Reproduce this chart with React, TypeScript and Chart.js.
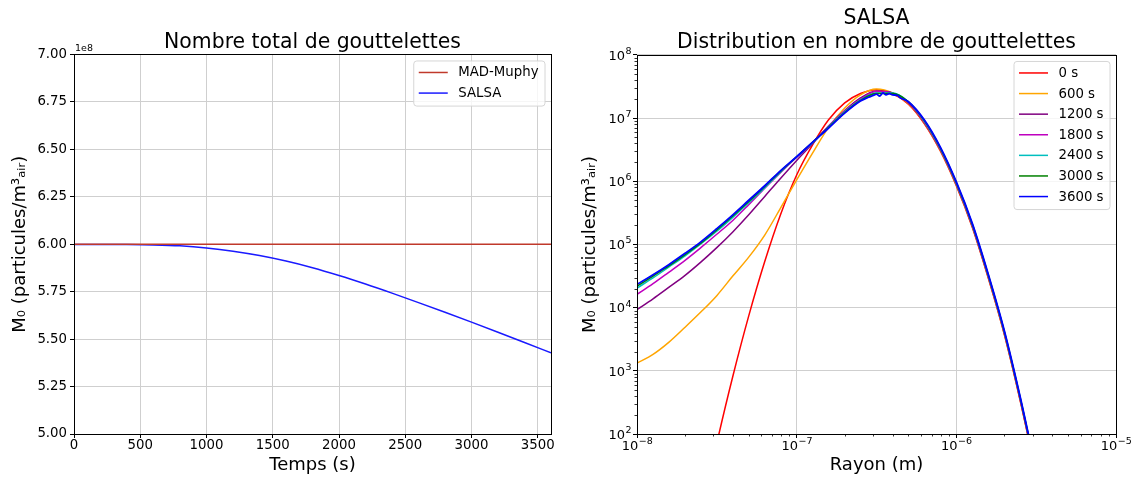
import React, { useEffect, useRef } from 'react';
import { Chart, registerables } from 'chart.js';

Chart.register(...registerables);

// ---------- Left chart data ----------
const times = [0, 200, 400, 600, 800, 1000, 1200, 1400, 1600, 1800, 2000, 2200, 2400, 2600, 2800, 3000, 3200, 3400, 3600];
const madMuphy = [6.0e8, 6.0e8, 6.0e8, 6.0e8, 6.0e8, 6.0e8, 6.0e8, 6.0e8, 6.0e8, 6.0e8, 6.0e8, 6.0e8, 6.0e8, 6.0e8, 6.0e8, 6.0e8, 6.0e8, 6.0e8, 6.0e8];
const salsaTotal = [5.999e8, 5.999e8, 5.9985e8, 5.9965e8, 5.9915e8, 5.9805e8, 5.9635e8, 5.9405e8, 5.9115e8, 5.8765e8, 5.8355e8, 5.7905e8, 5.7425e8, 5.6925e8, 5.6415e8, 5.5895e8, 5.5365e8, 5.4825e8, 5.4275e8];
const leftXTicks = [0, 500, 1000, 1500, 2000, 2500, 3000, 3500];
const leftYTicks = [5.0e8, 5.25e8, 5.5e8, 5.75e8, 6.0e8, 6.25e8, 6.5e8, 6.75e8, 7.0e8];
const leftSeriesLabels = ['MAD-Muphy', 'SALSA'];

// ---------- Right chart data ----------
const radius = [
  1.0e-8, 1.26e-8, 1.58e-8, 2.0e-8, 2.51e-8, 3.16e-8, 3.98e-8, 5.01e-8, 6.31e-8, 7.94e-8,
  1.0e-7, 1.26e-7, 1.58e-7, 2.0e-7, 2.51e-7, 3.16e-7, 3.98e-7, 5.01e-7, 6.31e-7, 7.94e-7,
  1.0e-6, 1.26e-6, 1.58e-6, 2.0e-6, 2.51e-6, 3.16e-6,
];
const dist0 = [null, null, null, 0.25, 4.7, 71, 813, 7410, 53700, 302000, 1.26e6, 3.80e6, 9.33e6, 1.74e7, 2.45e7, 2.82e7, 2.45e7, 1.66e7, 8.13e6, 3.02e6, 8.51e5, 1.86e5, 3.02e4, 3720, 339, 23.4];
const dist600 = [1320, 1820, 2820, 4900, 8510, 15500, 31600, 63100, 141000, 380000, 1.05e6, 2.82e6, 7.08e6, 1.45e7, 2.34e7, 2.88e7, 2.51e7, 1.70e7, 8.32e6, 3.09e6, 8.71e5, 1.91e5, 3.09e4, 3800, 347, 24];
const dist1200 = [9330, 13800, 20900, 32400, 52500, 89100, 158000, 295000, 575000, 1.12e6, 2.14e6, 3.98e6, 7.41e6, 1.32e7, 2.09e7, 2.69e7, 2.51e7, 1.74e7, 8.51e6, 3.16e6, 8.91e5, 1.95e5, 3.16e4, 3890, 355, 24.5];
const dist1800 = [16200, 24000, 36300, 56200, 89100, 145000, 240000, 427000, 776000, 1.38e6, 2.40e6, 4.07e6, 7.41e6, 1.29e7, 2.00e7, 2.63e7, 2.51e7, 1.78e7, 8.71e6, 3.24e6, 9.12e5, 2.0e5, 3.24e4, 3980, 363, 25.1];
const dist2400 = [20400, 29500, 43700, 66100, 102000, 162000, 269000, 457000, 794000, 1.41e6, 2.45e6, 4.07e6, 7.24e6, 1.26e7, 1.95e7, 2.51e7, 2.51e7, 1.82e7, 8.91e6, 3.31e6, 9.33e5, 2.04e5, 3.31e4, 4070, 372, 25.7];
const dist3000 = [21900, 31600, 45700, 69200, 105000, 170000, 282000, 479000, 832000, 1.45e6, 2.45e6, 4.17e6, 7.08e6, 1.23e7, 1.91e7, 2.45e7, 2.45e7, 1.82e7, 9.12e6, 3.39e6, 9.55e5, 2.09e5, 3.39e4, 4170, 380, 26.3];
// the 3600 s series is noisy around its peak, so it is sampled more finely there
const radius3600 = [
  1.0e-8, 1.26e-8, 1.58e-8, 2.0e-8, 2.51e-8, 3.16e-8, 3.98e-8, 5.01e-8, 6.31e-8, 7.94e-8,
  1.0e-7, 1.26e-7, 1.58e-7, 2.0e-7, 2.51e-7, 2.82e-7, 3.02e-7, 3.16e-7, 3.31e-7, 3.47e-7,
  3.63e-7, 3.80e-7, 3.98e-7, 4.27e-7, 4.47e-7, 5.01e-7, 6.31e-7, 7.94e-7,
  1.0e-6, 1.26e-6, 1.58e-6, 2.0e-6, 2.51e-6, 3.16e-6,
];
const dist3600 = [
  23400, 33100, 47900, 72400, 110000, 178000, 295000, 501000, 851000, 1.48e6,
  2.45e6, 4.17e6, 6.92e6, 1.20e7, 1.86e7, 2.14e7, 2.29e7, 2.40e7, 2.24e7, 2.51e7,
  2.34e7, 2.45e7, 2.34e7, 2.29e7, 2.09e7, 1.82e7, 9.33e6, 3.47e6,
  9.77e5, 2.14e5, 3.47e4, 4270, 389, 26.9,
];
const rightSeriesLabels = ['0 s', '600 s', '1200 s', '1800 s', '2400 s', '3000 s', '3600 s'];
const rightXTicks = [1e-8, 1e-7, 1e-6, 1e-5];
const rightYTicks = [1e2, 1e3, 1e4, 1e5, 1e6, 1e7, 1e8];

const FONT = "'DejaVu Sans', 'Liberation Sans', sans-serif";
const TICK_SIZE = 13.3;
const GRID = '#cfcfcf';

function expText(v: number) {
  const e = Math.round(Math.log10(v));
  return String(e).replace('-', '\u2212');
}

function drawPowLabel(ctx: CanvasRenderingContext2D, v: number, x: number, yBase: number, align: 'center' | 'right') {
  const base = '10';
  const e = expText(v);
  ctx.font = `13px ${FONT}`;
  const w1 = ctx.measureText(base).width;
  ctx.font = `9.5px ${FONT}`;
  const w2 = ctx.measureText(e).width;
  const x0 = align === 'center' ? x - (w1 + w2) / 2 : x - (w1 + w2);
  ctx.textAlign = 'left';
  ctx.textBaseline = 'alphabetic';
  ctx.fillStyle = '#000';
  ctx.font = `13px ${FONT}`;
  ctx.fillText(base, x0, yBase);
  ctx.font = `9.5px ${FONT}`;
  ctx.fillText(e, x0 + w1 + 0.5, yBase - 5.8);
}

function framePlugin(extra?: (chart: any) => void) {
  return {
    id: 'mplFrame',
    afterDatasetsDraw(chart: any) {
      const { ctx, chartArea: a } = chart;
      ctx.save();
      if (extra) extra(chart);
      ctx.strokeStyle = '#000';
      ctx.lineWidth = 1;
      ctx.strokeRect(Math.round(a.left) + 0.5, Math.round(a.top) + 0.5, Math.round(a.right - a.left), Math.round(a.bottom - a.top));
      ctx.restore();
    },
  };
}

function legendPlugin() {
  return {
    id: 'mplLegend',
    afterDraw(chart: any) {
      const { ctx, chartArea: a } = chart;
      const items = chart.data.datasets.map((d: any) => ({ label: d.label, color: d.borderColor }));
      ctx.save();
      ctx.font = `${TICK_SIZE}px ${FONT}`;
      const maxW = Math.max(...items.map((i: any) => ctx.measureText(i.label).width));
      const rowH = 20.6;
      const boxW = 5 + 29 + 10.5 + maxW + 6.5;
      const boxH = 11.5 + (items.length - 1) * rowH + 13;
      const right = a.right - 6;
      const left = right - boxW;
      const top = a.top + 6.5;
      const r = 3;
      ctx.beginPath();
      ctx.moveTo(left + r, top);
      ctx.lineTo(left + boxW - r, top);
      ctx.quadraticCurveTo(left + boxW, top, left + boxW, top + r);
      ctx.lineTo(left + boxW, top + boxH - r);
      ctx.quadraticCurveTo(left + boxW, top + boxH, left + boxW - r, top + boxH);
      ctx.lineTo(left + r, top + boxH);
      ctx.quadraticCurveTo(left, top + boxH, left, top + boxH - r);
      ctx.lineTo(left, top + r);
      ctx.quadraticCurveTo(left, top, left + r, top);
      ctx.closePath();
      ctx.fillStyle = 'rgba(255,255,255,0.8)';
      ctx.fill();
      ctx.strokeStyle = '#d6d6d6';
      ctx.lineWidth = 1;
      ctx.stroke();
      items.forEach((it: any, i: number) => {
        const y = top + 11.5 + i * rowH;
        ctx.strokeStyle = it.color;
        ctx.lineWidth = 1.5;
        ctx.beginPath();
        ctx.moveTo(left + 5, y);
        ctx.lineTo(left + 34, y);
        ctx.stroke();
        ctx.fillStyle = '#000';
        ctx.textBaseline = 'middle';
        ctx.textAlign = 'left';
        ctx.fillText(it.label, left + 44.5, y + 0.5);
      });
      ctx.restore();
    },
  };
}

function offsetTextPlugin(text: string) {
  return {
    id: 'mplOffset',
    afterDraw(chart: any) {
      const { ctx, chartArea: a } = chart;
      ctx.save();
      ctx.font = `9.5px ${FONT}`;
      ctx.fillStyle = '#000';
      ctx.textAlign = 'left';
      ctx.textBaseline = 'middle';
      ctx.fillText(text, a.left + 1, a.top - 6);
      ctx.restore();
    },
  };
}

function logLabelsPlugin() {
  return {
    id: 'mplLogLabels',
    afterDraw(chart: any) {
      const { ctx, chartArea: a, scales } = chart;
      ctx.save();
      rightXTicks.forEach((v) => {
        const px = scales.x.getPixelForValue(v);
        drawPowLabel(ctx, v, px, a.bottom + 15.7, 'center');
      });
      rightYTicks.forEach((v) => {
        const py = scales.y.getPixelForValue(v);
        drawPowLabel(ctx, v, a.left - 6, py + 4.8, 'right');
      });
      ctx.restore();
    },
  };
}

function minorTicks(chart: any) {
  const { ctx, chartArea: a, scales } = chart;
  ctx.strokeStyle = '#000';
  ctx.lineWidth = 0.8;
  ctx.beginPath();
  for (let k = -8; k <= -6; k++) {
    for (let m = 2; m <= 9; m++) {
      const px = Math.round(scales.x.getPixelForValue(m * Math.pow(10, k))) + 0.5;
      ctx.moveTo(px, a.bottom);
      ctx.lineTo(px, a.bottom + 2.5);
    }
  }
  for (let k = 2; k <= 7; k++) {
    for (let m = 2; m <= 9; m++) {
      const py = Math.round(scales.y.getPixelForValue(m * Math.pow(10, k))) + 0.5;
      ctx.moveTo(a.left - 2.5, py);
      ctx.lineTo(a.left, py);
    }
  }
  ctx.stroke();
}

const tickFont = { family: FONT, size: TICK_SIZE };
const axisTitleFont = { family: FONT, size: 18, weight: 'normal' as const };
const titleFont = { family: FONT, size: 20.4, weight: 'normal' as const };
const yTitle = 'M₀ (particules/m³ₐᵢᵣ)';

export default function App() {
  const leftRef = useRef<HTMLCanvasElement>(null);
  const rightRef = useRef<HTMLCanvasElement>(null);

  useEffect(() => {
    Chart.defaults.font.family = FONT;
    Chart.defaults.color = '#000';

    const left = new Chart(leftRef.current!, {
      type: 'line',
      data: {
        datasets: [
          {
            label: leftSeriesLabels[0],
            data: times.map((t, i) => ({ x: t, y: madMuphy[i] })),
            borderColor: '#c0392b',
            borderWidth: 1.5,
            pointRadius: 0,
            order: 0,
          },
          {
            label: leftSeriesLabels[1],
            data: times.map((t, i) => ({ x: t, y: salsaTotal[i] })),
            borderColor: '#1a1aff',
            borderWidth: 1.5,
            pointRadius: 0,
            cubicInterpolationMode: 'monotone',
            order: 1,
          },
        ],
      },
      options: {
        responsive: true,
        maintainAspectRatio: false,
        animation: false,
        events: [],
        layout: { padding: { left: 0, right: 18, top: 0, bottom: 0 } },
        plugins: {
          legend: { display: false },
          tooltip: { enabled: false },
          title: {
            display: true,
            text: 'Nombre total de gouttelettes',
            font: titleFont,
            color: '#000',
            padding: { top: 30, bottom: 0 },
            fullSize: false,
          },
        },
        scales: {
          x: {
            type: 'linear',
            min: 0,
            max: 3600,
            afterBuildTicks: (s: any) => {
              s.ticks = leftXTicks.map((v) => ({ value: v }));
            },
            afterFit: (s: any) => {
              s.height = 43;
            },
            ticks: { font: tickFont, color: '#000', padding: 0, maxRotation: 0, autoSkip: false, callback: (v: any) => String(v) },
            grid: { color: GRID, tickColor: '#000', tickLength: 4, tickWidth: 1 },
            border: { display: false },
            title: { display: true, text: 'Temps (s)', font: axisTitleFont, color: '#000', padding: { top: 0, bottom: 1 } },
          },
          y: {
            type: 'linear',
            min: 5.0e8,
            max: 7.0e8,
            afterBuildTicks: (s: any) => {
              s.ticks = leftYTicks.map((v) => ({ value: v }));
            },
            afterFit: (s: any) => {
              s.width = 74;
            },
            ticks: {
              font: tickFont,
              color: '#000',
              padding: 3,
              autoSkip: false,
              callback: (v: any) => (Number(v) / 1e8).toFixed(2),
            },
            grid: { color: GRID, tickColor: '#000', tickLength: 4, tickWidth: 1 },
            border: { display: false },
            title: { display: true, text: yTitle, font: axisTitleFont, color: '#000', padding: { top: 10, bottom: 0 } },
          },
        },
      },
      plugins: [framePlugin(), legendPlugin(), offsetTextPlugin('1e8')],
    } as any);

    const colors = ['#ff0000', '#ffa500', '#800080', '#bf00bf', '#00bfbf', '#008000', '#0000ff'];
    const series = [dist0, dist600, dist1200, dist1800, dist2400, dist3000, dist3600];
    const xs = [radius, radius, radius, radius, radius, radius, radius3600];

    const right = new Chart(rightRef.current!, {
      type: 'line',
      data: {
        datasets: series.map((s, i) => ({
          label: rightSeriesLabels[i],
          data: xs[i].map((r, j) => ({ x: r, y: s[j] })),
          borderColor: colors[i],
          borderWidth: i === 6 ? 1.8 : 1.5,
          pointRadius: 0,
          cubicInterpolationMode: 'monotone',
          order: series.length - 1 - i,
        })),
      },
      options: {
        responsive: true,
        maintainAspectRatio: false,
        animation: false,
        events: [],
        layout: { padding: { left: 0, right: 22, top: 0, bottom: 0 } },
        plugins: {
          legend: { display: false },
          tooltip: { enabled: false },
          title: {
            display: true,
            text: ['SALSA', 'Distribution en nombre de gouttelettes'],
            font: titleFont,
            color: '#000',
            padding: { top: 6, bottom: 0 },
            fullSize: false,
          },
        },
        scales: {
          x: {
            type: 'logarithmic',
            min: 1e-8,
            max: 1e-5,
            afterBuildTicks: (s: any) => {
              s.ticks = rightXTicks.map((v) => ({ value: v }));
            },
            afterFit: (s: any) => {
              s.height = 43;
            },
            ticks: { display: false, font: tickFont, autoSkip: false },
            grid: { color: GRID, tickColor: '#000', tickLength: 4, tickWidth: 1 },
            border: { display: false },
            title: { display: true, text: 'Rayon (m)', font: axisTitleFont, color: '#000', padding: { top: 0, bottom: 1 } },
          },
          y: {
            type: 'logarithmic',
            min: 1e2,
            max: 1e8,
            afterBuildTicks: (s: any) => {
              s.ticks = rightYTicks.map((v) => ({ value: v }));
            },
            afterFit: (s: any) => {
              s.width = 68;
            },
            ticks: { display: false, font: tickFont, autoSkip: false },
            grid: { color: GRID, tickColor: '#000', tickLength: 4, tickWidth: 1 },
            border: { display: false },
            title: { display: true, text: yTitle, font: axisTitleFont, color: '#000', padding: { top: 11, bottom: 0 } },
          },
        },
      },
      plugins: [framePlugin(minorTicks), legendPlugin(), logLabelsPlugin()],
    } as any);

    return () => {
      left.destroy();
      right.destroy();
    };
  }, []);

  return (
    <div style={{ position: 'absolute', left: 0, top: 0, width: 1138, height: 477, background: '#fff', display: 'flex' }}>
      <div style={{ position: 'relative', width: 569, height: 477 }}>
        <canvas ref={leftRef} />
      </div>
      <div style={{ position: 'relative', width: 569, height: 477 }}>
        <canvas ref={rightRef} />
      </div>
    </div>
  );
}
